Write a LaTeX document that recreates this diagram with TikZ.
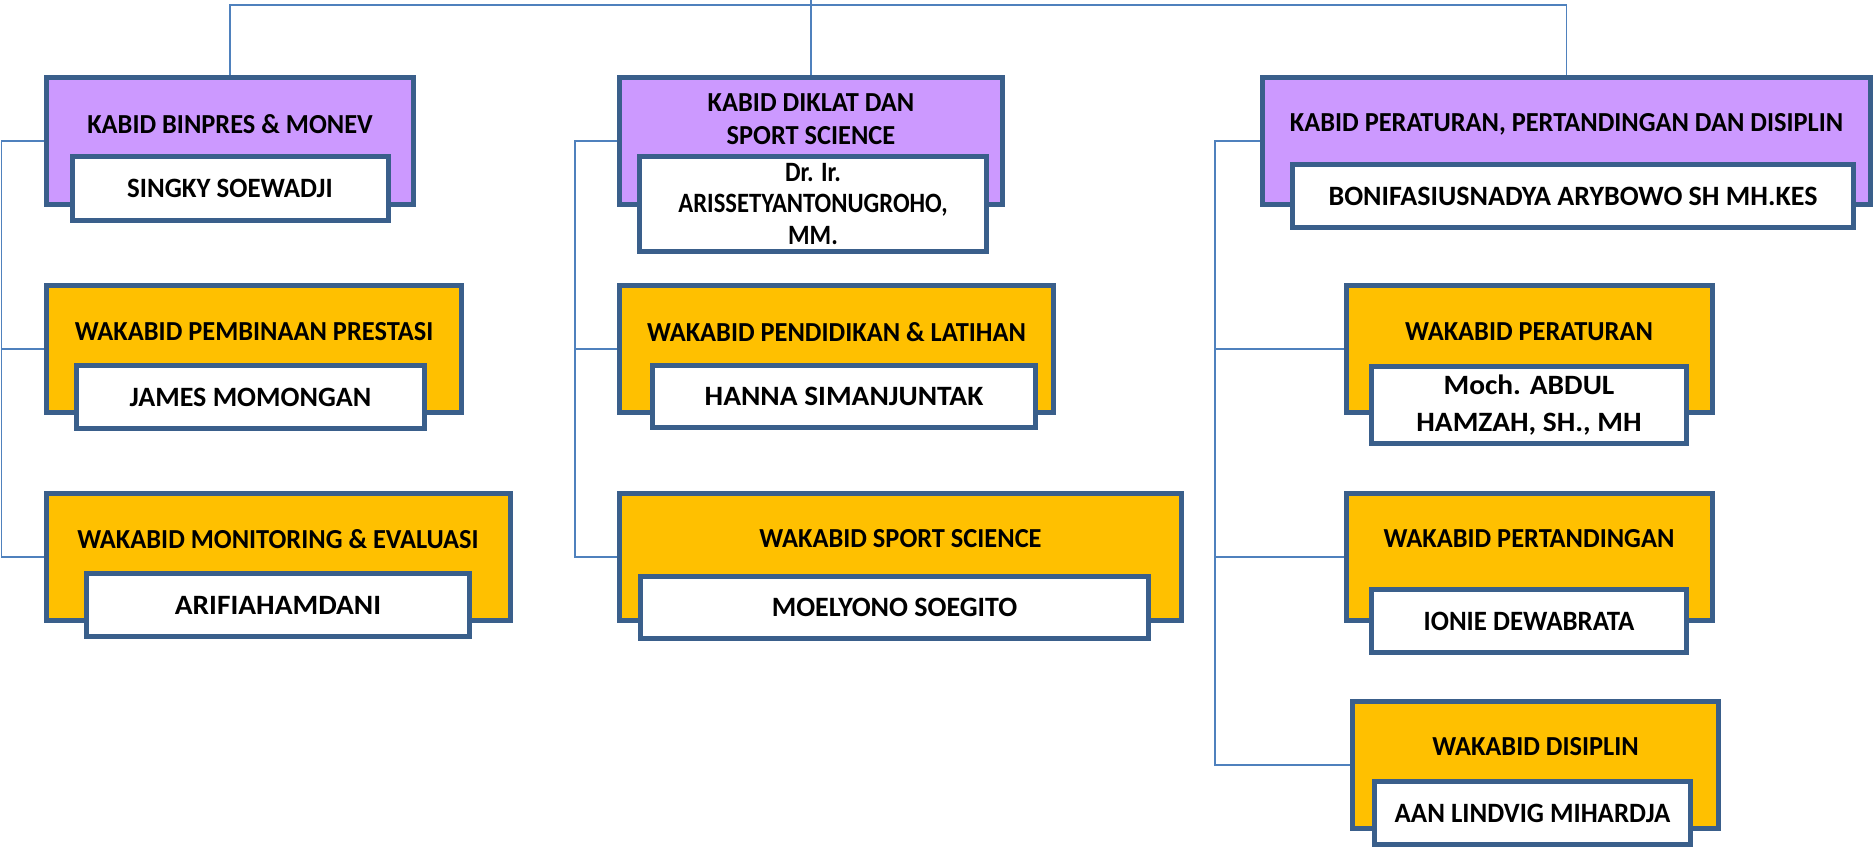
\documentclass[tikz,border=0pt]{standalone}
\usepackage{fontspec}
\setmainfont{Carlito}
\newfontfamily\slimfont[FakeStretch=0.88]{Carlito}
\newfontfamily\trimfont[FakeStretch=0.96]{Carlito}
\newfontfamily\broadfont[FakeStretch=1.05]{Carlito}
\usetikzlibrary{positioning, calc}
\definecolor{edgeblue}{HTML}{3A5F8B}
\definecolor{lineblue}{HTML}{4F81BD}
\definecolor{lilac}{HTML}{CC99FF}
\definecolor{amber}{HTML}{FFC000}
\tikzset{%
	orgbox/.style={draw=edgeblue, line width=5pt, rectangle, inner sep=0pt},
	kabid/.style={orgbox, fill=lilac, minimum height=127pt},
	wakabid/.style={orgbox, fill=amber, minimum height=127pt},
	person/.style={orgbox, fill=white, minimum height=63pt, align=center,%
		font=\trimfont\bfseries\fontsize{28}{33}\selectfont},
	slim/.style={font=\slimfont\bfseries\fontsize{28}{31.5}\selectfont},
	regular/.style={font=\normalfont\bfseries\fontsize{28}{33}\selectfont},
	broad/.style={font=\broadfont\bfseries\fontsize{28}{37}\selectfont},
	heading/.style={inner sep=0pt, align=center, font=\trimfont\bfseries\fontsize{27.5}{33}\selectfont},
	link/.style={draw=lineblue, line width=1.5pt}
}
\begin{document}
\begin{tikzpicture}[x=1pt, y=-1pt]
	\useasboundingbox (0,0) rectangle (1874,850);

	% first column
	\node[kabid, minimum width=367pt] (binpres) at (230,141) {};
	\node[heading] (binpres-t) at ([yshift=17pt]binpres.center) {KABID BINPRES \& MONEV};
	\node[person, minimum width=316pt, minimum height=64pt] (singky) at (230,188.5) {SINGKY SOEWADJI};

	\node[wakabid, minimum width=415pt] (pembinaan) at (254,349) {};
	\node[heading] (pembinaan-t) at ([yshift=17pt]pembinaan.center) {WAKABID PEMBINAAN PRESTASI};
	\node[person, regular, minimum width=348pt] (james) at (250.5,397) {JAMES MOMONGAN};

	\node[wakabid, minimum width=464pt] (monev) at (278,557) {};
	\node[heading] (monev-t) at ([yshift=18pt]monev.center) {WAKABID MONITORING \& EVALUASI};
	\node[person, broad, minimum width=383pt] (arifia) at (278,605) {ARIFIAHAMDANI};

	% second column
	\node[kabid, minimum width=383pt] (diklat) at (811,141) {};
	\node[heading] (diklat-t) at ([yshift=22pt]diklat.center) {KABID DIKLAT DAN\\SPORT SCIENCE};
	\node[person, slim, minimum width=347pt, minimum height=95pt] (aris) at (813,204) {Dr. Ir.\\ARISSETYANTONUGROHO,\\MM.};

	\node[wakabid, minimum width=434pt] (latihan) at (836.5,349) {};
	\node[heading] (latihan-t) at ([yshift=17pt]latihan.center) {WAKABID PENDIDIKAN \& LATIHAN};
	\node[person, broad, minimum width=383pt, minimum height=62pt] (hanna) at (844,396.5) {HANNA SIMANJUNTAK};

	\node[wakabid, minimum width=562pt] (science) at (900.5,557) {};
	\node[heading] (science-t) at ([yshift=18pt]science.center) {WAKABID SPORT SCIENCE};
	\node[person, regular, minimum width=508pt, minimum height=62pt] (moelyono) at (894.5,607.5) {MOELYONO SOEGITO};

	% third column
	\node[kabid, minimum width=608pt] (perbid) at (1566.5,141) {};
	\node[heading] (perbid-t) at ([yshift=17pt]perbid.center) {KABID PERATURAN, PERTANDINGAN DAN DISIPLIN};
	\node[person, regular, minimum width=561pt] (boni) at (1573,196) {BONIFASIUSNADYA ARYBOWO SH MH.KES};

	\node[wakabid, minimum width=366pt] (peraturan) at (1529,349) {};
	\node[heading] (peraturan-t) at ([yshift=17pt]peraturan.center) {WAKABID PERATURAN};
	\node[person, broad, minimum width=315pt, minimum height=77pt] (abdul) at (1529,405) {Moch. ABDUL\\HAMZAH, SH., MH};

	\node[wakabid, minimum width=366pt] (tanding) at (1529,557) {};
	\node[heading] (tanding-t) at ([yshift=18pt]tanding.center) {WAKABID PERTANDINGAN};
	\node[person, minimum width=315pt] (ionie) at (1529,621) {IONIE DEWABRATA};

	\node[wakabid, minimum width=366pt] (disiplin) at (1535.5,765) {};
	\node[heading] (disiplin-t) at ([yshift=18pt]disiplin.center) {WAKABID DISIPLIN};
	\node[person, minimum width=316pt] (aan) at (1532.5,813) {AAN LINDVIG MIHARDJA};

	% connectors
	\coordinate (root) at (811,0);
	\coordinate (lbus) at (1.5,141);
	\coordinate (mbus) at (575,141);
	\coordinate (rbus) at (1215,141);

	\draw[link] (root) -- (diklat.north);
	\draw[link] (binpres.north) |- (root |- 0,5) -| (perbid.north);
	\draw[link] (binpres.west) -- (lbus) |- (monev.west);
	\draw[link] (lbus |- pembinaan.west) -- (pembinaan.west);
	\draw[link] (diklat.west) -- (mbus) |- (science.west);
	\draw[link] (mbus |- latihan.west) -- (latihan.west);
	\draw[link] (perbid.west) -- (rbus) |- (disiplin.west);
	\draw[link] (rbus |- peraturan.west) -- (peraturan.west);
	\draw[link] (rbus |- tanding.west) -- (tanding.west);
\end{tikzpicture}
\end{document}
